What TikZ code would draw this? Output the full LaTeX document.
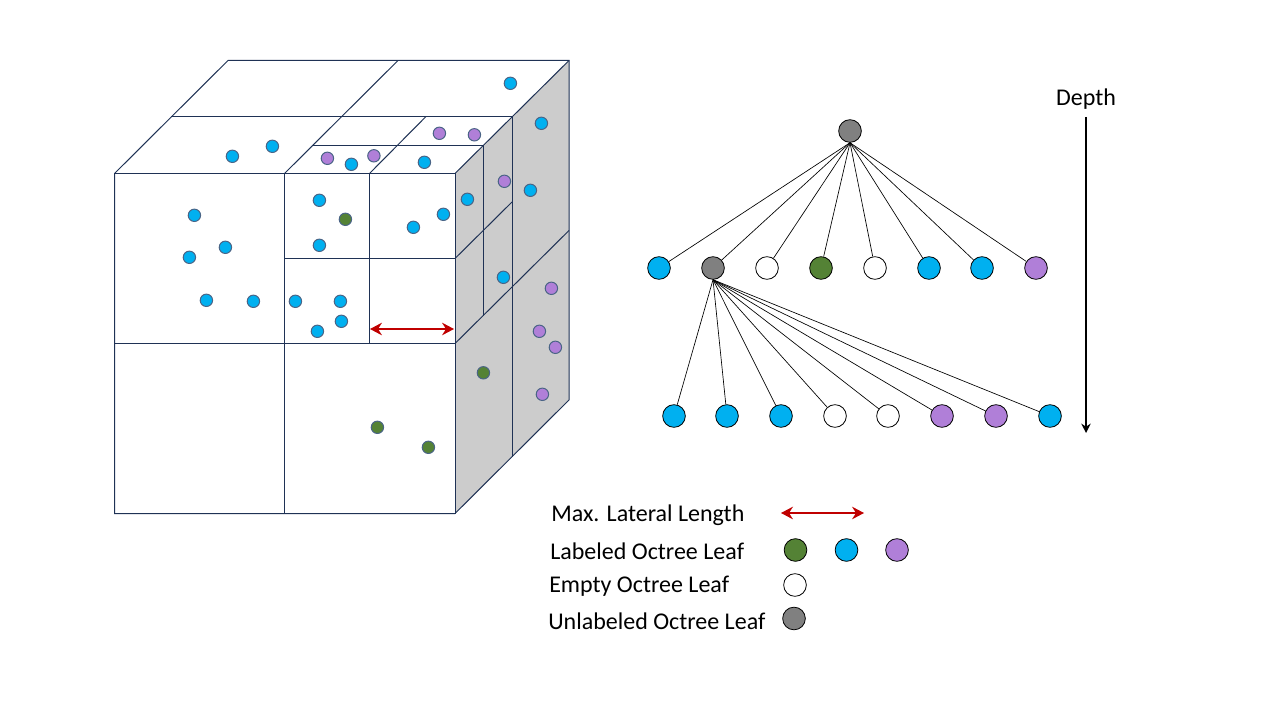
\documentclass[tikz,border=0pt]{standalone}
\usepackage{fontspec}
\setmainfont{Carlito}
\usetikzlibrary{arrows.meta}
\definecolor{cblue}{HTML}{00B0F0}
\definecolor{cpurple}{HTML}{B07FD8}
\definecolor{cgreen}{HTML}{548235}
\definecolor{cgray}{HTML}{808080}
\definecolor{cface}{HTML}{CCCCCC}
\definecolor{cnavy}{HTML}{1F3255}
\definecolor{cdot}{HTML}{4A6486}
\definecolor{cred}{HTML}{C00000}
\tikzset{
  x=0.75pt,y=-0.75pt,
  cube/.style={draw=cnavy,line width=0.75pt},
  dot/.style={circle,draw=cdot,line width=0.75pt,minimum size=9.3pt,inner sep=0pt,fill=#1},
  leaf/.style={circle,draw=black,line width=0.6pt,minimum size=17pt,inner sep=0pt,fill=#1},
  edge/.style={draw=black,line width=0.5pt},
  redarrow/.style={draw=cred,line width=1pt,{Stealth[length=9pt,width=9.5pt,inset=3pt]}-{Stealth[length=9pt,width=9.5pt,inset=3pt]}},
  legend/.style={anchor=west,font=\fontsize{18}{21}\selectfont,inner sep=0pt,text=black},
}
\begin{document}
\begin{tikzpicture}
\useasboundingbox (0,0) rectangle (1280,720);
% grey side
\fill[cface] (455,173.5) -- (512,116.5) -- (569,60.5) -- (569,400) -- (455,513.5) -- cycle;
% cube outline
\draw[cube] (114.5,173.5) -- (228,60.5) -- (569,60.5) -- (569,400) -- (455,513.5) -- (114.5,513.5) -- cycle;
% top face
\draw[cube] (171,116.5) -- (512,116.5);
\draw[cube] (398,60.5) -- (284.5,173.5);
\draw[cube] (313,145.5) -- (483.5,145.5);
\draw[cube] (426,116.5) -- (369.5,173.5);
\draw[cube] (569,60.5) -- (455,173.5);
% front face
\draw[cube] (114.5,173.5) -- (455,173.5) -- (455,513.5);
\draw[cube] (284.5,173.5) -- (284.5,513.5);
\draw[cube] (114.5,343.5) -- (455,343.5);
\draw[cube] (284.5,258.5) -- (455,258.5);
\draw[cube] (369.5,173.5) -- (369.5,343.5);
% right face
\draw[cube] (512,116.5) -- (512,457);
\draw[cube] (483.5,145.5) -- (483.5,316);
\draw[cube] (455,343.5) -- (569,230.5);
\draw[cube] (455,258.5) -- (512,202);
% dots
\foreach \px/\py [count=\i] in {510/83,541/123,232/156,272/146,351/164,424/162,530/190,467/199,319/200,443/214,413/227,194/215,225/247,189/257,319/245,503/277,206/300,253/301,295/301,340/301,341/321,317/331}
  \node[dot=cblue] (b\i) at ({\px+0.4},{\py+0.3}) {};
\foreach \px/\py [count=\i] in {439/133,474/134.5,327/158,373.5/155.5,504/181,551/288,539/331,555/347,542/394}
  \node[dot=cpurple] (p\i) at ({\px+0.4},{\py+0.3}) {};
\foreach \px/\py [count=\i] in {345/219,483/372.5,377/427,428/447}
  \node[dot=cgreen] (g\i) at ({\px+0.4},{\py+0.3}) {};
% red arrow in cube
\coordinate (ra) at (370,329);
\coordinate (rb) at (454,329);
\draw[redarrow] (ra) -- (rb);
% tree
\node[leaf=cgray] (root) at (850,131) {};
\foreach \name/\px/\c in {a1/659/cblue,a2/713/cgray,a3/767/white,a4/821/cgreen,a5/875/white,a6/929/cblue,a7/982/cblue,a8/1036/cpurple}{
  \node[leaf=\c] (\name) at (\px,268) {};
  \draw[edge] (root.south) -- (\name);
}
\foreach \name/\px/\c in {c1/674/cblue,c2/727/cblue,c3/781/cblue,c4/835/white,c5/888/white,c6/942/cpurple,c7/996/cpurple,c8/1050/cblue}{
  \node[leaf=\c] (\name) at (\px,416) {};
  \draw[edge] (a2.south) -- (\name);
}
% depth
\node[font=\fontsize{18}{21}\selectfont,inner sep=0pt] (depth) at (1086,99) {Depth};
\coordinate (da) at (1086,117);
\coordinate (db) at (1086,433);
\draw[black,line width=1.7pt,-{Stealth[length=7pt,width=7pt]}] (da) -- (db);
% legend
\node[legend] (l1) at (551,515) {Max. Lateral Length};
\node[legend] (l2) at (550,551) {Labeled Octree Leaf};
\node[legend] (l3) at (549,586) {Empty Octree Leaf};
\node[legend] (l4) at (548,621) {Unlabeled Octree Leaf};
\coordinate (la) at (781,513);
\coordinate (lb) at (864,513);
\draw[redarrow] (la) -- (lb);
\node[leaf=cgreen] (k1) at (795.5,550) {};
\node[leaf=cblue] (k2) at (846.5,550) {};
\node[leaf=cpurple] (k3) at (897,550) {};
\node[leaf=white] (k4) at (795,585) {};
\node[leaf=cgray] (k5) at (794,618.5) {};
\end{tikzpicture}
\end{document}
